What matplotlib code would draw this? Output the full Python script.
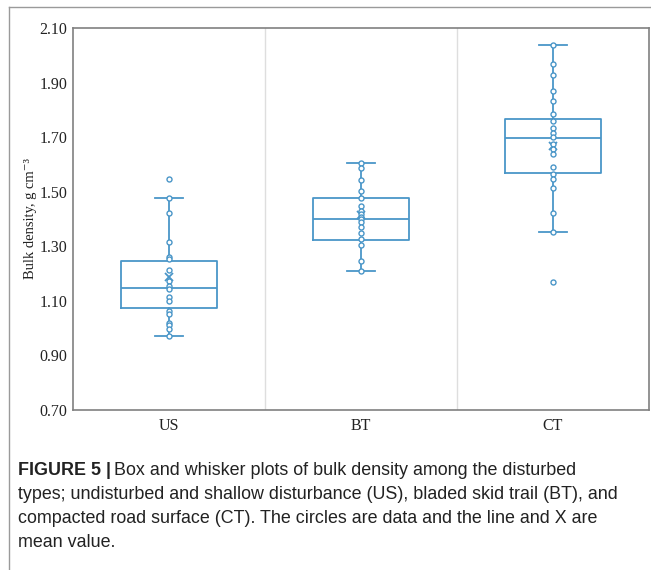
import matplotlib
matplotlib.use("Agg")
import matplotlib.pyplot as plt
from matplotlib.lines import Line2D

# categories
groups = ["US", "BT", "CT"]

# data points (g cm-3)
us_vals = [1.546, 1.477, 1.422, 1.314, 1.259, 1.252, 1.213, 1.174, 1.154, 1.142,
           1.113, 1.098, 1.064, 1.052, 1.020, 1.010, 0.998, 0.971]
bt_vals = [1.606, 1.587, 1.543, 1.502, 1.477, 1.448, 1.428, 1.419, 1.408, 1.401,
           1.389, 1.369, 1.349, 1.326, 1.303, 1.245, 1.210]
ct_vals = [2.036, 1.968, 1.929, 1.869, 1.831, 1.785, 1.760, 1.732, 1.714, 1.699,
           1.675, 1.655, 1.637, 1.592, 1.566, 1.548, 1.512, 1.423, 1.351, 1.169]

# box statistics as drawn
q1 = [1.074, 1.324, 1.570]
med = [1.147, 1.399, 1.697]
q3 = [1.246, 1.477, 1.766]
wlo = [0.971, 1.210, 1.351]
whi = [1.477, 1.606, 2.036]
means = [1.186, 1.416, 1.669]

yticks = [0.70, 0.90, 1.10, 1.30, 1.50, 1.70, 1.90, 2.10]

blue = "#4a96c8"
W, H = 651, 570
fig = plt.figure(figsize=(W / 100, H / 100), dpi=100)
fig.patch.set_facecolor("white")

# outer frame of the figure panel (top and left edge)
fig.add_artist(Line2D([9 / W, 1], [1 - 7 / H, 1 - 7 / H], color="#9a9a9a", lw=1.0))
fig.add_artist(Line2D([9 / W, 9 / W], [0, 1 - 7 / H], color="#9a9a9a", lw=1.0))

ax = fig.add_axes([73 / W, 1 - 410 / H, (649 - 73) / W, (410 - 28) / H])

stats = []
for i in range(3):
    stats.append(dict(q1=q1[i], med=med[i], q3=q3[i], whislo=wlo[i], whishi=whi[i],
                      mean=means[i], fliers=[]))

pos = list(range(len(groups)))
ax.bxp(stats, positions=pos, widths=0.5, capwidths=0.15, showmeans=True,
       showfliers=False,
       boxprops=dict(color=blue, lw=1.3),
       medianprops=dict(color=blue, lw=1.3),
       whiskerprops=dict(color=blue, lw=1.3),
       capprops=dict(color=blue, lw=1.3),
       meanprops=dict(marker="x", markeredgecolor=blue, markersize=5.5, mew=1.3))

for i, vals in enumerate([us_vals, bt_vals, ct_vals]):
    ax.plot([pos[i]] * len(vals), vals, ls="none", marker="o", ms=3.6,
            mfc="white", mec=blue, mew=1.0, zorder=3)

# category separators
for x in [0.5, 1.5]:
    ax.axvline(x, color="#dedede", lw=1.0, zorder=0)

ax.set_xlim(-0.5, 2.5)
ax.set_ylim(0.70, 2.10)
ax.set_yticks(yticks)
ax.set_yticklabels([f"{v:.2f}" for v in yticks])
ax.set_xticks(pos)
ax.set_xticklabels(groups)
ax.tick_params(length=0, labelsize=11.5, colors="#222222")
ax.tick_params(axis="y", pad=4)
ax.tick_params(axis="x", pad=6)
for lab in ax.get_xticklabels() + ax.get_yticklabels():
    lab.set_family("Liberation Serif")
for s in ax.spines.values():
    s.set_color("#808080")
    s.set_linewidth(1.2)

ax.set_ylabel("Bulk density, g cm\u207b\u00b3", family=["Liberation Serif", "DejaVu Serif"],
              fontsize=10.5, color="#222222")
ax.yaxis.set_label_coords(-0.063, 0.5)

# caption
cap_font = dict(family="Liberation Sans", fontsize=12.9, color="#222222", va="baseline")
t0 = fig.text(18 / W, 1 - 475 / H, "FIGURE 5 |", fontweight="bold", **cap_font)
fig.canvas.draw()
r = fig.canvas.get_renderer()
bb = t0.get_window_extent(r)
fig.text(bb.x1 / W + 3 / W, 1 - 475 / H,
         "Box and whisker plots of bulk density among the disturbed", **cap_font)
lines = ["types; undisturbed and shallow disturbance (US), bladed skid trail (BT), and",
         "compacted road surface (CT). The circles are data and the line and X are",
         "mean value."]
for k, line in enumerate(lines):
    fig.text(18 / W, 1 - (499 + 24 * k) / H, line, **cap_font)

fig.savefig("out.png", dpi=100)
